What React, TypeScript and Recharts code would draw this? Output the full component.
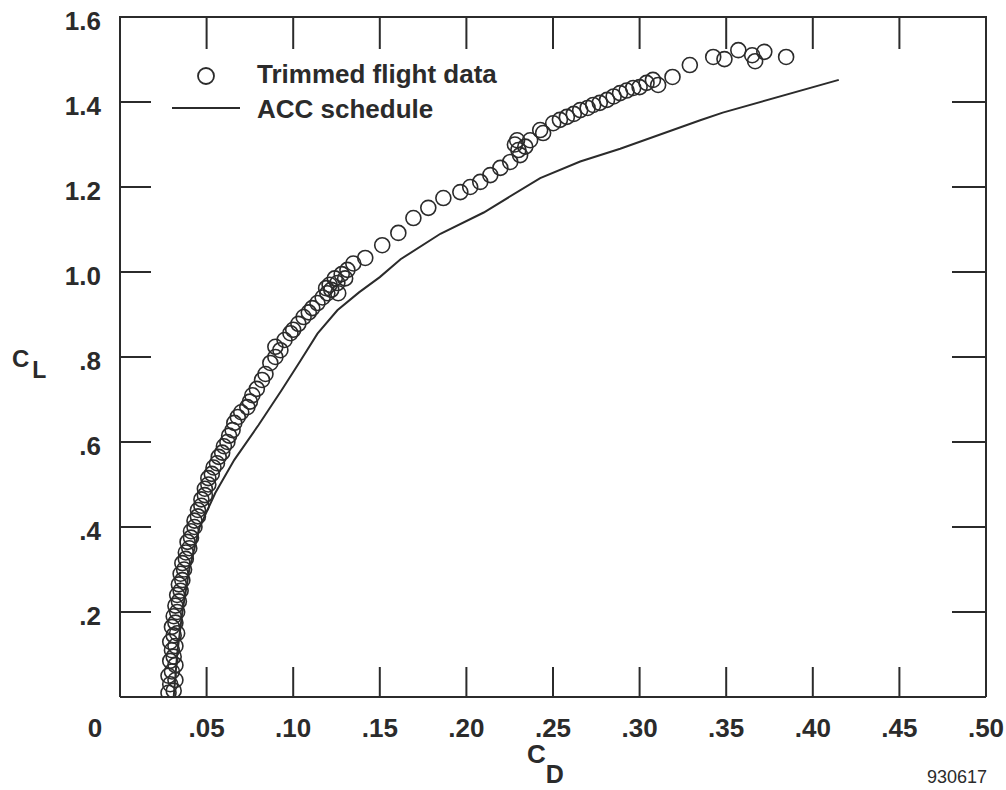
import { ScatterChart, Scatter, XAxis, YAxis, Legend } from 'recharts'

// trimmed flight data (CD, CL pairs by index)
const flightCD = [
  0.028, 0.031, 0.029, 0.032, 0.028, 0.030, 0.032, 0.029, 0.031, 0.030,
  0.032, 0.029, 0.031, 0.033, 0.030, 0.032, 0.031, 0.033, 0.032, 0.034,
  0.033, 0.035, 0.034, 0.036, 0.035, 0.037, 0.036, 0.038, 0.038, 0.040,
  0.039, 0.041, 0.041, 0.043, 0.043, 0.045, 0.045, 0.047, 0.047, 0.049,
  0.049, 0.051, 0.051, 0.053, 0.054, 0.056, 0.057, 0.059, 0.060, 0.062,
  0.063, 0.065, 0.066, 0.068, 0.070, 0.0735, 0.075, 0.0764, 0.079, 0.082,
  0.084, 0.0868, 0.0897, 0.0926, 0.0897, 0.095, 0.0984, 0.100, 0.103, 0.106,
  0.109, 0.111, 0.114, 0.117, 0.1197, 0.122, 0.1255,
  0.119, 0.121, 0.124, 0.128, 0.1313, 0.1347, 0.126, 0.130,
  0.1416, 0.1514, 0.1607, 0.1694, 0.178, 0.1867, 0.1965, 0.2022, 0.208, 0.2138,
  0.2196, 0.2253, 0.230, 0.2293, 0.2368, 0.231,
  0.234, 0.228, 0.2443, 0.2426,
  0.2501, 0.254, 0.258, 0.262, 0.2657, 0.270, 0.2732, 0.277, 0.2812, 0.285,
  0.2887, 0.2925, 0.2963, 0.300, 0.304, 0.3077, 0.3107, 0.319,
  0.329, 0.3425, 0.349, 0.357, 0.365, 0.3667, 0.372, 0.3846,
]
const flightCL = [
  0.01, 0.015, 0.03, 0.04, 0.05, 0.06, 0.075, 0.085, 0.095, 0.11,
  0.12, 0.13, 0.145, 0.15, 0.165, 0.175, 0.19, 0.20, 0.215, 0.225,
  0.24, 0.25, 0.265, 0.275, 0.29, 0.30, 0.315, 0.325, 0.34, 0.35,
  0.365, 0.375, 0.39, 0.40, 0.415, 0.425, 0.44, 0.45, 0.465, 0.475,
  0.49, 0.50, 0.515, 0.525, 0.54, 0.55, 0.565, 0.575, 0.59, 0.60,
  0.615, 0.628, 0.645, 0.659, 0.67, 0.682, 0.695, 0.71, 0.725, 0.746,
  0.76, 0.786, 0.80, 0.816, 0.824, 0.84, 0.856, 0.864, 0.878, 0.894,
  0.905, 0.915, 0.927, 0.94, 0.95, 0.958, 0.974,
  0.962, 0.97, 0.985, 0.995, 1.005, 1.02, 0.95, 0.985,
  1.033, 1.063, 1.092, 1.127, 1.151, 1.174, 1.188, 1.20, 1.212, 1.228,
  1.245, 1.259, 1.287, 1.31, 1.31, 1.275,
  1.295, 1.30, 1.327, 1.334,
  1.35, 1.358, 1.365, 1.372, 1.381, 1.386, 1.393, 1.398, 1.405, 1.413,
  1.421, 1.427, 1.433, 1.435, 1.445, 1.452, 1.44, 1.459,
  1.487, 1.506, 1.501, 1.522, 1.51, 1.496, 1.518, 1.506,
]

// ACC schedule curve
const accCD = [
  0.031, 0.033, 0.036, 0.040, 0.046, 0.055, 0.066, 0.080, 0.093, 0.104,
  0.114, 0.1255, 0.138, 0.150, 0.162, 0.185, 0.210, 0.2426, 0.2657, 0.2888,
  0.335, 0.348, 0.415,
]
const accCL = [
  0, 0.1, 0.2, 0.3, 0.4, 0.48, 0.558, 0.64, 0.72, 0.79,
  0.855, 0.91, 0.952, 0.988, 1.03, 1.09, 1.14, 1.221, 1.26, 1.29,
  1.357, 1.375, 1.452,
]

const xTicks = [0, 0.05, 0.1, 0.15, 0.2, 0.25, 0.3, 0.35, 0.4, 0.45, 0.5]
const yTicks = [0, 0.2, 0.4, 0.6, 0.8, 1.0, 1.2, 1.4, 1.6]

const flightData = flightCD.map((cd, i) => ({ cd, cl: flightCL[i] }))
const accData = accCD.map((cd, i) => ({ cd, cl: accCL[i] }))

const INK = '#2b2b2b'
const FONT = '"Liberation Sans", Arial, Helvetica, sans-serif'

// layout
const W = 1006
const H = 790
const Y_AXIS_W = 120
const MARGIN = { top: 16, right: 19, bottom: 0, left: 0 }
const PLOT_W = W - Y_AXIS_W - MARGIN.right - 1

const trim = (s: string) => (s.startsWith('0.') ? s.slice(1) : s)

function BottomTick({ x, y, payload }: any) {
  const v = payload.value
  return (
    <g>
      {v > 0 && v < 0.5 && <line x1={x} y1={y} x2={x} y2={y - 30} stroke={INK} strokeWidth={2} />}
      <text x={v === 0 ? x - 25 : x} y={y + 40} textAnchor="middle" fontSize={26} fontWeight="bold" fill={INK} fontFamily={FONT}>
        {v === 0 ? '0' : trim(v.toFixed(2))}
      </text>
    </g>
  )
}

function TopTick({ x, y, payload }: any) {
  const v = payload.value
  if (v <= 0 || v >= 0.5) return <g />
  return <line x1={x} y1={y} x2={x} y2={y + 32} stroke={INK} strokeWidth={2} />
}

function LeftTick({ x, y, payload }: any) {
  const v = payload.value
  if (v === 0) return <g />
  return (
    <g>
      {v < 1.6 && <line x1={x} y1={y} x2={x + 31} y2={y} stroke={INK} strokeWidth={2} />}
      <text x={x - 19} y={y + 13} textAnchor="end" fontSize={26} fontWeight="bold" fill={INK} fontFamily={FONT}>
        {trim(v.toFixed(1))}
      </text>
    </g>
  )
}

function RightTick({ x, y, payload }: any) {
  const v = payload.value
  if (v <= 0 || v >= 1.6) return <g />
  return <line x1={x} y1={y} x2={x - 34} y2={y} stroke={INK} strokeWidth={2} />
}

function XTitle() {
  return (
    <g fontFamily={FONT} fill={INK}>
      <text x={527} y={763} fontSize={26} fontWeight="bold">
        C<tspan fontSize={25} dy={20}>D</tspan>
      </text>
      <text x={987} y={783} textAnchor="end" fontSize={18}>930617</text>
    </g>
  )
}

function YTitle() {
  return (
    <text x={12} y={367} fontFamily={FONT} fill={INK} fontSize={24} fontWeight="bold">
      C<tspan fontSize={23} dx={3} dy={11}>L</tspan>
    </text>
  )
}

function Ring({ cx, cy }: any) {
  return <circle cx={cx} cy={cy} r={7.5} fill="none" stroke={INK} strokeWidth={1.6} />
}

function LegendBox() {
  return (
    <svg width={420} height={70} style={{ display: 'block' }}>
      <circle cx={46} cy={18} r={8} fill="none" stroke={INK} strokeWidth={1.8} />
      <text x={97} y={25} fontFamily={FONT} fontSize={26} fontWeight="bold" fill={INK}>Trimmed flight data</text>
      <line x1={12} y1={50} x2={80} y2={50} stroke={INK} strokeWidth={2} />
      <text x={97} y={60} fontFamily={FONT} fontSize={26} fontWeight="bold" fill={INK}>ACC schedule</text>
    </svg>
  )
}

export default function App() {
  return (
    <div style={{ position: 'absolute', left: 0, top: 0, width: W, height: H, background: '#fff' }}>
      <ScatterChart width={W} height={H} margin={MARGIN}>
        <XAxis
          dataKey="cd" type="number" domain={[0, 0.5]} ticks={xTicks} interval={0}
          height={93} tickSize={0} tickMargin={0} tickLine={false}
          axisLine={{ stroke: INK, strokeWidth: 2 }} tick={<BottomTick />}
          label={<XTitle />} allowDataOverflow
        />
        <XAxis
          xAxisId="top" orientation="top" dataKey="cd" type="number" domain={[0, 0.5]} ticks={xTicks} interval={0}
          height={1} tickSize={0} tickMargin={0} tickLine={false}
          axisLine={{ stroke: INK, strokeWidth: 2 }} tick={<TopTick />}
        />
        <YAxis
          dataKey="cl" type="number" domain={[0, 1.6]} ticks={yTicks} interval={0}
          width={Y_AXIS_W} tickSize={0} tickMargin={0} tickLine={false}
          axisLine={{ stroke: INK, strokeWidth: 2 }} tick={<LeftTick />}
          label={<YTitle />} allowDataOverflow
        />
        <YAxis
          yAxisId="right" orientation="right" dataKey="cl" type="number" domain={[0, 1.6]} ticks={yTicks} interval={0}
          width={1} tickSize={0} tickMargin={0} tickLine={false}
          axisLine={{ stroke: INK, strokeWidth: 2 }} tick={<RightTick />} allowDataOverflow
        />
        <Legend
          layout="vertical" align="center" verticalAlign="middle"
          wrapperStyle={{ top: 58, left: 160, width: 420 }}
          content={() => <LegendBox />}
        />
        <Scatter name="frame" xAxisId="top" yAxisId="right" data={accData} shape={() => <g />} legendType="none" isAnimationActive={false} />
        <Scatter name="ACC schedule" data={accData} line={{ stroke: INK, strokeWidth: 2 }} lineType="joint" shape={() => <g />} isAnimationActive={false} />
        <Scatter name="Trimmed flight data" data={flightData} shape={<Ring />} isAnimationActive={false} />
      </ScatterChart>
      {/* top edge of the frame, laid over the chart */}
      <div
        style={{
          position: 'absolute', zIndex: 5, pointerEvents: 'none',
          left: Y_AXIS_W - 1, top: MARGIN.top, width: PLOT_W + 2, height: 2, background: INK,
        }}
      />
    </div>
  )
}
